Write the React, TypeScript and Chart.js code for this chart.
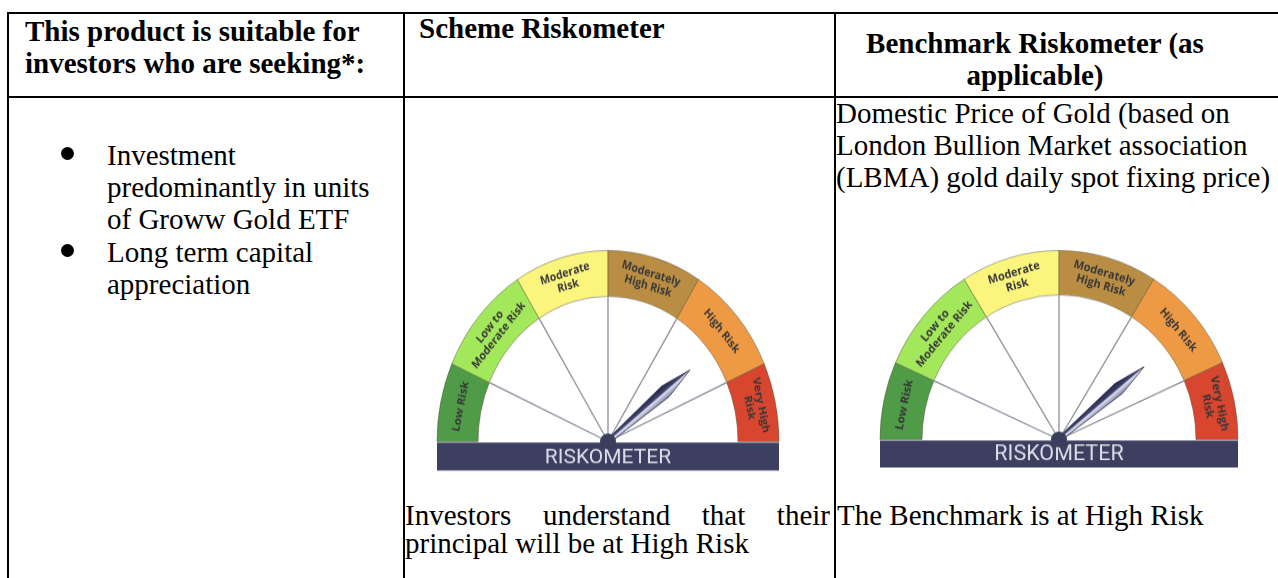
import React, { useEffect, useRef } from "react";
import { Chart, registerables } from "chart.js";

Chart.register(...registerables);

// ---------- data ----------
const riskCategories = [
  "Low Risk",
  "Low to Moderate Risk",
  "Moderate Risk",
  "Moderately High Risk",
  "High Risk",
  "Very High Risk",
];
const riskLabelLines = [
  ["Low Risk"],
  ["Low to", "Moderate Risk"],
  ["Moderate", "Risk"],
  ["Moderately", "High Risk"],
  ["High Risk"],
  ["Very High", "Risk"],
];
const segmentSpans = [24, 34, 32, 32, 34, 24];
const segmentColors = ["#4f9b47", "#a3e75b", "#fbf57e", "#b98d43", "#ee9a45", "#d9462f"];
const schemeNeedleValue = 142;
const benchmarkNeedleValue = 141;
const barTitle = "RISKOMETER";

const headerCol1 = ["This product is suitable for", "investors who are seeking*:"];
const headerCol2 = ["Scheme Riskometer"];
const headerCol3 = ["Benchmark Riskometer (as", "applicable)"];
const bulletItems = [
  ["Investment", "predominantly in units", "of Groww Gold ETF"],
  ["Long term capital", "appreciation"],
];
const benchmarkName = [
  "Domestic Price of Gold (based on",
  "London Bullion Market association",
  "(LBMA) gold daily spot fixing price)",
];
const schemeNote = ["Investors understand that their", "principal will be at High Risk"];
const benchmarkNote = ["The Benchmark is at High Risk"];

// ---------- plugin ----------
const gaugePlugin = {
  id: "gauge",
  afterDatasetsDraw(chart: any, _args: any, opts: any) {
    const ctx: CanvasRenderingContext2D = chart.ctx;
    const meta = chart.getDatasetMeta(0);
    const arcs: any[] = meta.data;
    if (!arcs.length) return;
    const x = arcs[0].x;
    const y = arcs[0].y;
    const ir = arcs[0].innerRadius;
    const or = arcs[0].outerRadius;
    const k = opts.k;

    // segment labels
    ctx.save();
    ctx.fillStyle = "#383838";
    ctx.font = `bold ${opts.labelSize}px "Open Sans"`;
    ctx.textAlign = "center";
    ctx.textBaseline = "middle";
    arcs.forEach((arc: any, i: number) => {
      const mid = (arc.startAngle + arc.endAngle) / 2;
      const r = (ir + or) / 2;
      const lines = riskLabelLines[i];
      ctx.save();
      ctx.translate(x + r * Math.cos(mid), y + r * Math.sin(mid));
      ctx.rotate(mid + Math.PI / 2);
      const lh = opts.labelSize * 1.1;
      lines.forEach((ln: string, j: number) => {
        ctx.fillText(ln, 0, (j - (lines.length - 1) / 2) * lh);
      });
      ctx.restore();
    });
    ctx.restore();

    // spokes
    ctx.save();
    ctx.strokeStyle = "#8d8e9c";
    ctx.lineWidth = 1.3;
    for (let i = 1; i < arcs.length; i++) {
      const a = arcs[i].startAngle;
      ctx.beginPath();
      ctx.moveTo(x, y);
      ctx.lineTo(x + ir * Math.cos(a), y + ir * Math.sin(a));
      ctx.stroke();
    }
    ctx.restore();

    // needle
    const total = segmentSpans.reduce((s, v) => s + v, 0);
    const na = Math.PI + (opts.needle / total) * Math.PI;
    const L = ir * 0.8;
    ctx.save();
    ctx.translate(x, y);
    ctx.rotate(na);
    const grad = ctx.createLinearGradient(0, -6, 0, 6);
    grad.addColorStop(0, "#22244a");
    grad.addColorStop(0.42, "#40436c");
    grad.addColorStop(0.55, "#dcdeee");
    grad.addColorStop(1, "#7c7fa4");
    ctx.beginPath();
    ctx.moveTo(3, -2);
    ctx.lineTo(0.7 * L, -6);
    ctx.lineTo(0.78 * L, -4.5);
    ctx.lineTo(L, 0);
    ctx.lineTo(0.78 * L, 4.5);
    ctx.lineTo(0.7 * L, 6);
    ctx.lineTo(3, 2);
    ctx.closePath();
    ctx.fillStyle = grad;
    ctx.fill();
    ctx.strokeStyle = "rgba(40,42,70,0.85)";
    ctx.lineWidth = 0.8;
    ctx.stroke();
    ctx.restore();

    // bar, title, hub (drawn undistorted)
    ctx.save();
    ctx.translate(x, y);
    ctx.scale(1, 1 / k);
    ctx.fillStyle = "#3c3f5f";
    ctx.fillRect(-or, opts.barTop, 2 * or, opts.barH);
    ctx.fillStyle = "#dcdde8";
    ctx.font = `${opts.titleSize}px Roboto`;
    ctx.textAlign = "center";
    ctx.textBaseline = "middle";
    ctx.fillText(barTitle, 0, opts.barTop + opts.barH / 2 + 1);
    ctx.beginPath();
    ctx.arc(0, 0, 8, 0, Math.PI * 2);
    ctx.fillStyle = "#3a3d5c";
    ctx.fill();
    ctx.restore();
  },
};

type GaugeProps = {
  cx: number;
  cy: number;
  R: number;
  k: number;
  cutout: number;
  needle: number;
  barTop: number;
  barH: number;
  labelSize: number;
  titleSize: number;
};

function Gauge(p: GaugeProps) {
  const ref = useRef<HTMLCanvasElement>(null);
  const padX = 12;
  const padTop = 8;
  const padBottom = 45;
  const W = 2 * p.R + 2 + 2 * padX;
  const H = p.R + 1 + padTop + padBottom;
  const ox = padX + p.R + 1;
  const oy = padTop + p.R + 0.5;

  useEffect(() => {
    if (!ref.current) return;
    const chart = new Chart(ref.current, {
      type: "doughnut",
      data: {
        labels: riskCategories,
        datasets: [
          {
            data: segmentSpans,
            backgroundColor: segmentColors,
            borderColor: "rgba(80,78,55,0.45)",
            borderWidth: 1,
          },
        ],
      },
      options: {
        responsive: false,
        animation: false,
        events: [],
        rotation: -90,
        circumference: 180,
        cutout: `${p.cutout}%`,
        layout: { padding: { left: padX, right: padX, top: padTop, bottom: padBottom } },
        plugins: {
          legend: { display: false },
          tooltip: { enabled: false },
          gauge: {
            k: p.k,
            needle: p.needle,
            barTop: p.barTop,
            barH: p.barH,
            labelSize: p.labelSize,
            titleSize: p.titleSize,
          },
        } as any,
      },
      plugins: [gaugePlugin as any],
    });
    return () => chart.destroy();
  }, []);

  return (
    <div
      style={{
        position: "absolute",
        left: p.cx - ox,
        top: p.cy - oy,
        width: W,
        height: H,
        transform: `scaleY(${p.k})`,
        transformOrigin: `${ox}px ${oy}px`,
      }}
    >
      <canvas ref={ref} width={W} height={H} style={{ width: W, height: H, display: "block" }} />
    </div>
  );
}

const serif = '"Liberation Serif", "Times New Roman", serif';
const ASC = 26;

function Line({ text, left, baseline, bold, width, align, justify }: any) {
  return (
    <div
      style={{
        position: "absolute",
        left,
        top: baseline - ASC,
        width: width ?? undefined,
        fontFamily: serif,
        fontSize: 29,
        lineHeight: "32px",
        fontWeight: bold ? 700 : 400,
        color: "#000",
        whiteSpace: "nowrap",
        textAlign: justify ? "justify" : align ?? "left",
        textAlignLast: justify ? "justify" : undefined,
      } as any}
    >
      {text}
    </div>
  );
}

export default function App() {
  const hl = (top: number) => (
    <div style={{ position: "absolute", left: 7, top, width: 1271, height: 2, background: "#000" }} />
  );
  const vl = (left: number) => (
    <div style={{ position: "absolute", left, top: 12, width: 2, height: 566, background: "#000" }} />
  );

  let bulletLine = 0;
  const bulletEls: any[] = [];
  bulletItems.forEach((item, i) => {
    const b0 = 165 + bulletLine * 32.2;
    bulletEls.push(
      <div
        key={`b${i}`}
        style={{
          position: "absolute",
          left: 61,
          top: b0 - 11.5 - 6.5,
          width: 13,
          height: 13,
          borderRadius: "50%",
          background: "#000",
        }}
      />
    );
    item.forEach((t, j) => {
      bulletEls.push(<Line key={`t${i}-${j}`} text={t} left={107} baseline={b0 + j * 32.2} />);
    });
    bulletLine += item.length;
  });

  return (
    <div style={{ position: "fixed", left: 0, top: 0, width: 1278, height: 578, background: "#fff", overflow: "hidden" }}>
      {hl(12)}
      {hl(96)}
      {vl(7)}
      {vl(403)}
      {vl(834)}

      {headerCol1.map((t, i) => (
        <Line key={`h1${i}`} text={t} left={25} baseline={41 + i * 32} bold />
      ))}
      {headerCol2.map((t, i) => (
        <Line key={`h2${i}`} text={t} left={419} baseline={38 + i * 32} bold />
      ))}
      {headerCol3.map((t, i) => (
        <Line key={`h3${i}`} text={t} left={835} width={400} align="center" baseline={53 + i * 32} bold />
      ))}

      {bulletEls}

      {benchmarkName.map((t, i) => (
        <Line key={`bn${i}`} text={t} left={836} baseline={123 + i * 32} />
      ))}

      <Gauge cx={608} cy={441} R={171} k={1.117} cutout={76} needle={schemeNeedleValue} barTop={1} barH={28} labelSize={10.5} titleSize={21} />
      <Gauge cx={1059} cy={439} R={179} k={1.056} cutout={76.5} needle={benchmarkNeedleValue} barTop={1} barH={27} labelSize={11} titleSize={21.5} />

      <Line text={schemeNote[0]} left={405} width={425} baseline={525} justify />
      <Line text={schemeNote[1]} left={405} baseline={553} />
      {benchmarkNote.map((t, i) => (
        <Line key={`bk${i}`} text={t} left={837} baseline={525 + i * 28} />
      ))}
    </div>
  );
}
